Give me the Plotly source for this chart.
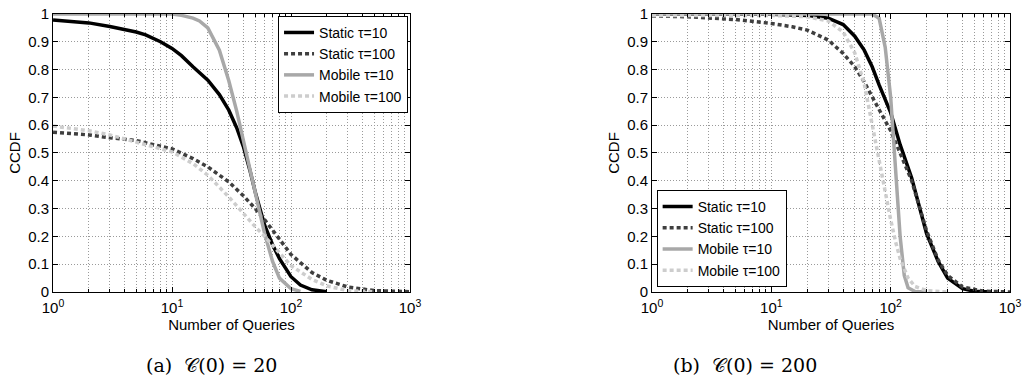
import plotly.graph_objects as go

# ---- C(0) = 20 ----
a_static10_x = [1, 2, 3, 4, 5, 6, 7, 8, 10, 12, 15, 20, 25, 30, 35, 40, 45, 50, 60, 70, 80, 100, 120, 150, 200]
a_static10_y = [0.978, 0.968, 0.955, 0.945, 0.935, 0.925, 0.912, 0.900, 0.876, 0.850, 0.810, 0.762, 0.710,
                0.654, 0.590, 0.520, 0.440, 0.360, 0.240, 0.170, 0.120, 0.055, 0.025, 0.008, 0.001]

a_static100_x = [1, 2, 3, 4, 5, 7, 10, 15, 20, 30, 40, 50, 60, 80, 100, 150, 200, 300, 500, 1000]
a_static100_y = [0.575, 0.565, 0.555, 0.550, 0.545, 0.530, 0.515, 0.480, 0.450, 0.396, 0.345, 0.300,
                 0.260, 0.190, 0.135, 0.070, 0.042, 0.018, 0.005, 0.001]

a_mobile10_x = [1, 5, 10, 12, 15, 17, 20, 25, 30, 35, 40, 50, 60, 70, 80, 100, 120]
a_mobile10_y = [1.0, 1.0, 1.0, 0.995, 0.985, 0.975, 0.950, 0.870, 0.760, 0.650, 0.540, 0.360, 0.210,
                0.110, 0.050, 0.012, 0.002]

a_mobile100_x = [1, 2, 3, 5, 10, 15, 20, 30, 40, 50, 60, 80, 100, 150, 200, 300, 500]
a_mobile100_y = [0.597, 0.580, 0.565, 0.540, 0.504, 0.462, 0.420, 0.342, 0.280, 0.235, 0.200, 0.140,
                 0.095, 0.045, 0.022, 0.005, 0.001]

# ---- C(0) = 200 ----
b_static10_x = [1, 10, 20, 30, 40, 50, 60, 70, 80, 100, 120, 150, 200, 250, 300, 400, 500, 700]
b_static10_y = [1.0, 0.999, 0.995, 0.985, 0.962, 0.920, 0.870, 0.810, 0.745, 0.645, 0.530, 0.410,
                0.210, 0.110, 0.050, 0.012, 0.003, 0.0]

b_static100_x = [1, 2, 5, 10, 15, 20, 30, 40, 50, 60, 70, 80, 100, 120, 150, 200, 250, 300, 400, 600, 1000]
b_static100_y = [0.993, 0.990, 0.980, 0.966, 0.954, 0.942, 0.906, 0.858, 0.810, 0.756, 0.702, 0.654,
                 0.580, 0.500, 0.400, 0.220, 0.115, 0.060, 0.018, 0.003, 0.0]

b_mobile10_x = [1, 10, 50, 70, 80, 90, 100, 110, 120, 130, 140, 160, 200]
b_mobile10_y = [1.0, 1.0, 1.0, 1.0, 0.985, 0.880, 0.700, 0.450, 0.200, 0.060, 0.015, 0.002, 0.0]

b_mobile100_x = [1, 10, 20, 30, 40, 50, 60, 70, 80, 90, 100, 110, 120, 140, 160, 200, 300]
b_mobile100_y = [0.995, 0.995, 0.990, 0.975, 0.935, 0.860, 0.750, 0.600, 0.480, 0.360, 0.260, 0.180,
                 0.120, 0.050, 0.020, 0.005, 0.0]

series_names = ["Static \u03c4=10", "Static \u03c4=100", "Mobile \u03c4=10", "Mobile \u03c4=100"]
captions = ["(a)  \U0001D49E(0) = 20", "(b)  \U0001D49E(0) = 200"]
x_tickvals = [1, 10, 100, 1000]
x_ticktext = ["10<sup>0</sup>", "10<sup>1</sup>", "10<sup>2</sup>", "10<sup>3</sup>"]

styles = [
    dict(color="#000000", width=3.5, dash="solid"),
    dict(color="#3f3f3f", width=3.5, dash="4px,3px"),
    dict(color="#a8a8a8", width=3.5, dash="solid"),
    dict(color="#cdcdcd", width=3.5, dash="4px,3px"),
]

panels = [
    [(a_static10_x, a_static10_y), (a_static100_x, a_static100_y),
     (a_mobile10_x, a_mobile10_y), (a_mobile100_x, a_mobile100_y)],
    [(b_static10_x, b_static10_y), (b_static100_x, b_static100_y),
     (b_mobile10_x, b_mobile10_y), (b_mobile100_x, b_mobile100_y)],
]

FONT = "Liberation Sans"
GRID = "#9a9a9a"
fig = go.Figure()

for p, curves in enumerate(panels):
    suffix = "" if p == 0 else "2"
    for (xs, ys), name, st in zip(curves, series_names, styles):
        fig.add_trace(go.Scatter(
            x=xs, y=ys, mode="lines", name=name,
            line=st, xaxis="x" + suffix, yaxis="y" + suffix,
            legend="legend" + suffix,
        ))

axis_common = dict(
    showline=True, linecolor="black", linewidth=1, mirror="allticks",
    ticks="inside", ticklen=5, tickcolor="black",
    showgrid=True, gridcolor=GRID, griddash="1px,2px", gridwidth=1,
    zeroline=False, tickfont=dict(family=FONT, size=15, color="black"),
)

x_common = dict(
    axis_common, type="log", range=[0, 3],
    tickvals=x_tickvals, ticktext=x_ticktext, ticklabelstandoff=2,
    minor=dict(ticks="inside", ticklen=3, tickcolor="black", dtick="D1",
               showgrid=True, gridcolor=GRID, griddash="1px,2px", gridwidth=1),
    title=dict(text="Number of Queries", font=dict(family=FONT, size=15, color="black"), standoff=0),
)
y_common = dict(
    axis_common, range=[0, 1], dtick=0.1,
    title=dict(text="CCDF", font=dict(family=FONT, size=15, color="black"), standoff=3),
)

legend_common = dict(
    bgcolor="white", bordercolor="black", borderwidth=1,
    font=dict(family=FONT, size=14, color="black"),
    tracegroupgap=0, itemwidth=30,
)

fig.update_layout(
    width=1026, height=378,
    margin=dict(l=0, r=0, t=0, b=0),
    paper_bgcolor="white", plot_bgcolor="white",
    xaxis=dict(x_common, domain=[0.0517, 0.3996], anchor="y", automargin=False),
    yaxis=dict(y_common, domain=[0.2275, 0.963], anchor="x", automargin=False),
    xaxis2=dict(x_common, domain=[0.6355, 0.9844], anchor="y2", automargin=False),
    yaxis2=dict(y_common, domain=[0.2275, 0.963], anchor="x2", automargin=False),
    legend=dict(legend_common, x=0.3977, y=0.958, xanchor="right", yanchor="top"),
    legend2=dict(legend_common, x=0.640, y=0.2407, xanchor="left", yanchor="bottom"),
    showlegend=True,
)

for cx, text in zip([0.2057, 0.726], captions):
    fig.add_annotation(
        text=text, x=cx, y=0.035, xref="paper", yref="paper",
        xanchor="center", yanchor="middle", showarrow=False,
        font=dict(family="DejaVu Serif", size=19, color="black"),
    )

fig.write_html("out.html")
